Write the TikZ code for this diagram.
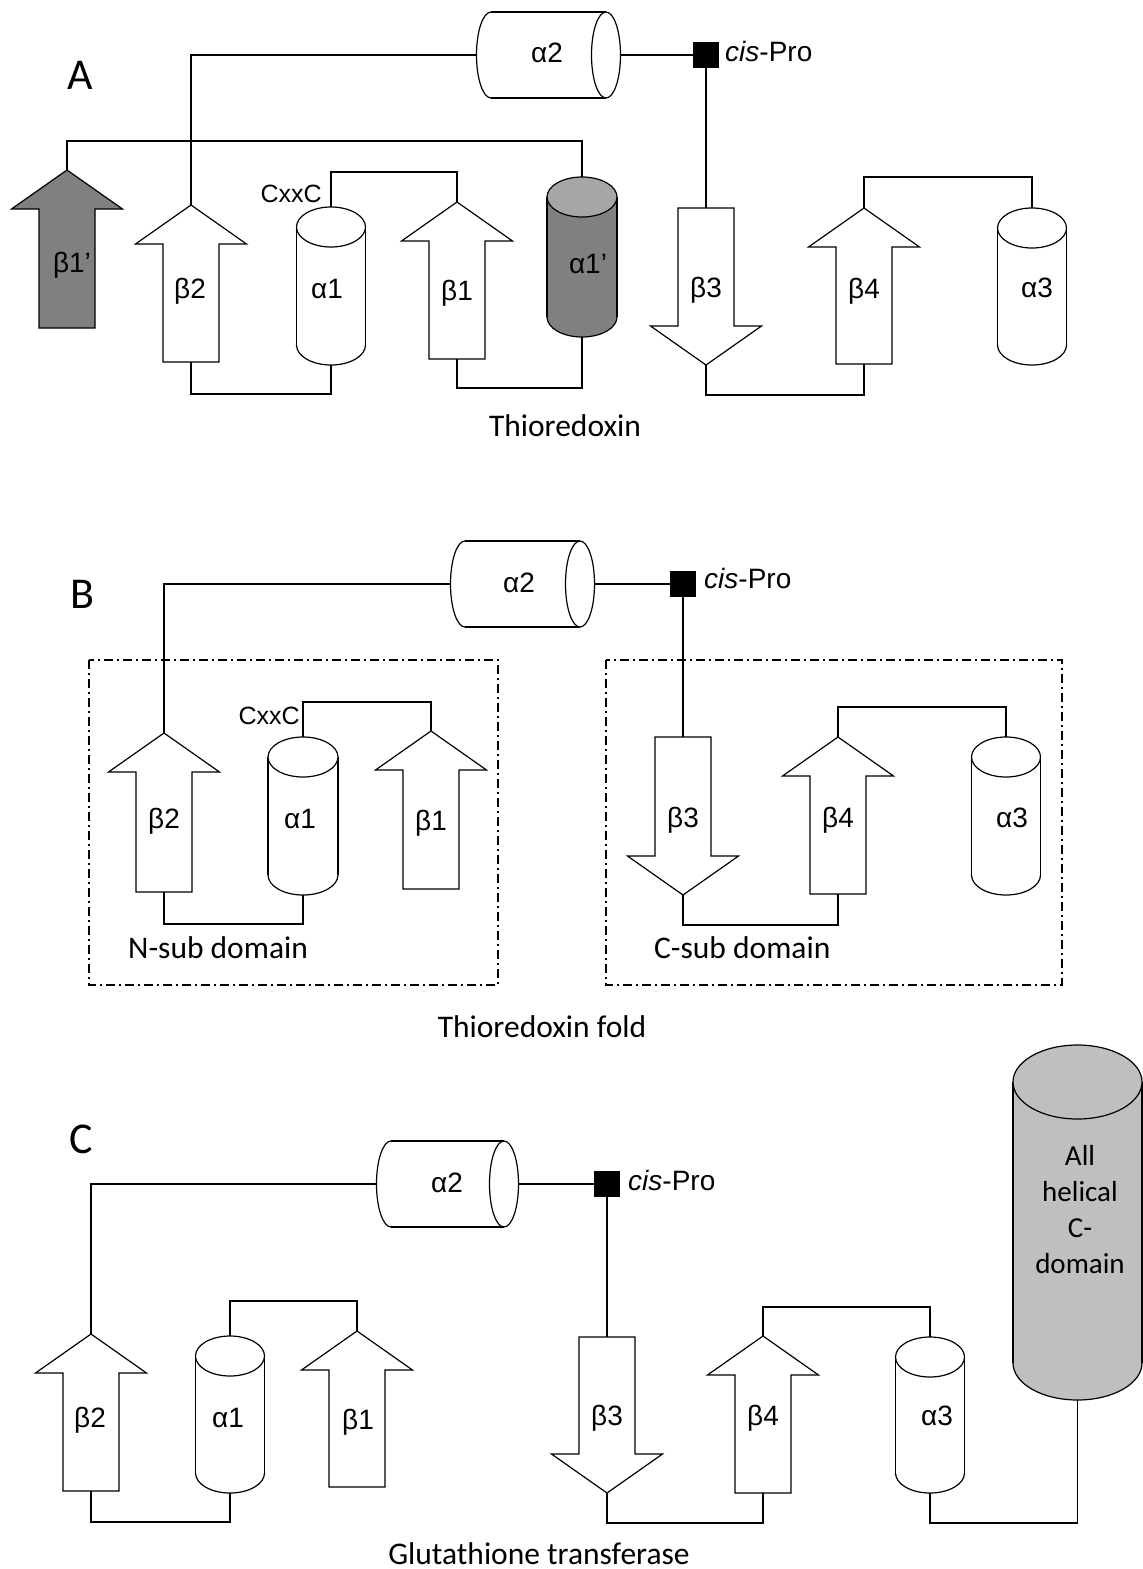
\documentclass[tikz,border=0pt]{standalone}
\usepackage{fontspec}
\setmainfont{Liberation Sans}
\newfontfamily\calfont{Carlito}

\definecolor{strandgray}{HTML}{808080}
\definecolor{capgray}{HTML}{A6A6A6}
\definecolor{domaingray}{HTML}{BFBFBF}

\tikzset{
  linker/.style={line width=1.2pt},
  elem/.style={line width=1.2pt, fill=white},
  lbl/.style={font=\fontsize{28}{30}\selectfont, inner sep=0pt, text height=20pt, text depth=0pt},
  motif/.style={font=\fontsize{25}{27}\selectfont, inner sep=0pt, text height=18pt, text depth=0pt, anchor=east},
  captext/.style={font=\calfont\fontsize{31.5}{34}\selectfont, inner sep=0pt, anchor=base},
  panel/.style={font=\calfont\fontsize{44}{46}\selectfont, inner sep=0pt, anchor=base},
  domainbox/.style={line width=1.2pt, dash pattern=on 9pt off 4pt on 2pt off 4pt},
  cispro/.style={fill=black, minimum size=26pt, inner sep=0pt},
}

\newcommand{\strandup}[5]{%
  \draw[elem, fill=#5] (#2,#3) -- (#2+55.5,#3+39) -- (#2+28,#3+39) -- (#2+28,#4)
    -- (#2-28,#4) -- (#2-28,#3+39) -- (#2-55.5,#3+39) -- cycle;
  \coordinate (#1t) at (#2,#3);
  \coordinate (#1b) at (#2,#4);
}
\newcommand{\stranddown}[4]{%
  \draw[elem] (#2-28,#3) -- (#2+28,#3) -- (#2+28,#4-39) -- (#2+55.5,#4-39) -- (#2,#4)
    -- (#2-55.5,#4-39) -- (#2-28,#4-39) -- cycle;
  \coordinate (#1t) at (#2,#3);
  \coordinate (#1b) at (#2,#4);
}
\newcommand{\helixv}[8]{%
  \draw[elem, fill=#7] (#2,#4-#6) ellipse (#5 and #6);
  \fill[#7] (#2-#5,#3+#6) rectangle (#2+#5,#4-#6);
  \draw[linker] (#2-#5,#3+#6) -- (#2-#5,#4-#6) (#2+#5,#3+#6) -- (#2+#5,#4-#6);
  \draw[elem, fill=#8] (#2,#3+#6) ellipse (#5 and #6);
  \coordinate (#1t) at (#2,#3);
  \coordinate (#1b) at (#2,#4);
}
\newcommand{\helixh}[4]{%
  \draw[elem] (#2,#4) ellipse (14.5 and 43);
  \fill[white] (#2,#4-43) rectangle (#3,#4+43);
  \draw[linker] (#2,#4-43) -- (#3,#4-43) (#2,#4+43) -- (#3,#4+43);
  \draw[elem] (#3,#4) ellipse (14.5 and 43);
  \coordinate (#1l) at (#2-14.5,#4);
  \coordinate (#1r) at (#3+14.5,#4);
}

\begin{document}
\begin{tikzpicture}[x=1pt, y=-1pt]
\path[use as bounding box, fill=white] (0,0) rectangle (1143,1569);

% A: thioredoxin
\node[panel] (labA) at (80,89) {A};
\helixh{a2A}{491}{606}{55}
\node[lbl] (ta2A) at (547,52) {α2};
\node[cispro] (cpA) at (706,55) {};
\node[lbl, anchor=west] (tcpA) at (725,51) {\textit{cis}-Pro};
\strandup{b1pA}{67}{170}{328}{strandgray}
\node[lbl] (tb1pA) at (72,262) {β1’};
\strandup{b2A}{191}{205}{362}{white}
\node[lbl] (tb2A) at (190,288) {β2};
\helixv{a1A}{331}{207}{365}{34.5}{20}{white}{white}
\node[lbl] (ta1A) at (327,288) {α1};
\node[motif] (cxxcA) at (322,193) {CxxC};
\strandup{b1A}{457}{202}{359}{white}
\node[lbl] (tb1A) at (457,290) {β1};
\helixv{a1pA}{582}{177}{337}{35}{20}{strandgray}{capgray}
\node[lbl] (ta1pA) at (588,263) {α1’};
\stranddown{b3A}{706}{208}{365}
\node[lbl] (tb3A) at (706,287) {β3};
\strandup{b4A}{864}{208}{364}{white}
\node[lbl] (tb4A) at (864,288) {β4};
\helixv{a3A}{1032}{208}{365}{34.5}{20}{white}{white}
\node[lbl] (ta3A) at (1037,287) {α3};
\draw[linker] (b1pAt) -- ++(0,-29) -| (a1pAt);
\draw[linker] (b2At) |- (a2Al);
\draw[linker] (a2Ar) -- (cpA);
\draw[linker] (cpA) -- (b3At);
\draw[linker] (b2Ab) -- ++(0,32) -| (a1Ab);
\draw[linker] (a1At) -- ++(0,-35) -| (b1At);
\draw[linker] (b1Ab) -- ++(0,29) -| (a1pAb);
\draw[linker] (b3Ab) -- ++(0,30) -| (b4Ab);
\draw[linker] (b4At) -- ++(0,-31) -| (a3At);
\node[captext] (capA) at (565,436) {Thioredoxin};

% B: thioredoxin fold
\node[panel] (labB) at (82,608) {B};
\draw[domainbox] (89,660) rectangle (498,985);
\draw[domainbox] (606,660) rectangle (1062,985);
\helixh{a2B}{465}{580}{584}
\node[lbl] (ta2B) at (519,582) {α2};
\node[cispro] (cpB) at (683,584) {};
\node[lbl, anchor=west] (tcpB) at (704,578) {\textit{cis}-Pro};
\strandup{b2B}{164}{733}{892}{white}
\node[lbl] (tb2B) at (164,818) {β2};
\helixv{a1B}{303}{737}{895}{35}{20}{white}{white}
\node[lbl] (ta1B) at (300,818) {α1};
\node[motif] (cxxcB) at (300,715) {CxxC};
\strandup{b1B}{431}{731}{889}{white}
\node[lbl] (tb1B) at (431,820) {β1};
\stranddown{b3B}{683}{737}{895}
\node[lbl] (tb3B) at (683,817) {β3};
\strandup{b4B}{838}{737}{894}{white}
\node[lbl] (tb4B) at (838,817) {β4};
\helixv{a3B}{1006}{737}{895}{34.5}{20}{white}{white}
\node[lbl] (ta3B) at (1012,817) {α3};
\draw[linker] (b2Bt) |- (a2Bl);
\draw[linker] (a2Br) -- (cpB);
\draw[linker] (cpB) -- (b3Bt);
\draw[linker] (b2Bb) -- ++(0,32) -| (a1Bb);
\draw[linker] (a1Bt) -- ++(0,-35) -| (b1Bt);
\draw[linker] (b3Bb) -- ++(0,30) -| (b4Bb);
\draw[linker] (b4Bt) -- ++(0,-30) -| (a3Bt);
\node[captext, anchor=base west] (nsub) at (128,958) {N-sub domain};
\node[captext, anchor=base west] (csub) at (654,958) {C-sub domain};
\node[captext] (capB) at (542,1037) {Thioredoxin fold};

% C: glutathione transferase
\node[panel] (labC) at (81,1153) {C};
\helixh{a2C}{391}{504}{1184}
\node[lbl] (ta2C) at (447,1182) {α2};
\node[cispro] (cpC) at (607,1184) {};
\node[lbl, anchor=west] (tcpC) at (628,1180) {\textit{cis}-Pro};
\strandup{b2C}{91}{1334}{1491}{white}
\node[lbl] (tb2C) at (90,1417) {β2};
\helixv{a1C}{230}{1336}{1493}{34.5}{20}{white}{white}
\node[lbl] (ta1C) at (228,1417) {α1};
\strandup{b1C}{357}{1331}{1487}{white}
\node[lbl] (tb1C) at (358,1419) {β1};
\stranddown{b3C}{607}{1337}{1493}
\node[lbl] (tb3C) at (607,1415) {β3};
\strandup{b4C}{763}{1336}{1493}{white}
\node[lbl] (tb4C) at (763,1415) {β4};
\helixv{a3C}{930}{1337}{1493}{34.5}{20}{white}{white}
\node[lbl] (ta3C) at (937,1415) {α3};
\helixv{hC}{1077.5}{1045}{1400}{64.5}{37}{domaingray}{domaingray}
\node[font=\calfont\fontsize{29}{36}\selectfont, align=center, inner sep=0pt] (thC) at (1080,1210) {All\\helical\\C-\\domain};
\draw[linker] (b2Ct) |- (a2Cl);
\draw[linker] (a2Cr) -- (cpC);
\draw[linker] (cpC) -- (b3Ct);
\draw[linker] (b2Cb) -- ++(0,31) -| (a1Cb);
\draw[linker] (a1Ct) -- ++(0,-35) -| (b1Ct);
\draw[linker] (b3Cb) -- ++(0,30) -| (b4Cb);
\draw[linker] (b4Ct) -- ++(0,-29) -| (a3Ct);
\draw[linker] (a3Cb) -- ++(0,30) -| (hCb);
\node[captext, text depth=0pt] (capC) at (539,1564) {Glutathione transferase};
\end{tikzpicture}
\end{document}
